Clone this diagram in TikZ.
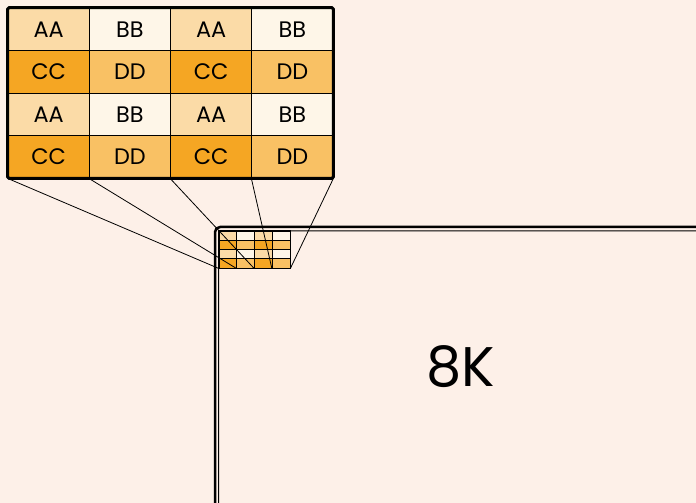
\documentclass[tikz,border=0pt]{standalone}
\usepackage{fontspec}
\setmainfont{Poppins}
\definecolor{bgpeach}{HTML}{FDF0E8}
\definecolor{cAA}{HTML}{FBDBA7}
\definecolor{cBB}{HTML}{FEF6E8}
\definecolor{cCC}{HTML}{F5A623}
\definecolor{cDD}{HTML}{F9C164}

\begin{document}
\begin{tikzpicture}[x=1bp,y=-1bp,line join=round]
	\tikzset{bigcell/.style={draw=black, rectangle, line width=0.8bp, minimum width=81.25bp, minimum height=42.5bp, inner sep=0pt, font=\fontsize{22.5}{22.5}\selectfont}}
	\tikzset{smallcell/.style={draw=black, rectangle, line width=0.8bp, minimum width=17.75bp, minimum height=9.25bp, inner sep=0pt}}
	\useasboundingbox (0,0) rectangle (696,503);
	\fill[bgpeach] (0,0) rectangle (696,503);
	\clip (0,0) rectangle (696,503);
	% the 8K frame
	\draw[line width=2.5bp, rounded corners=5bp] (215,520) |- (720,227);
	\draw[line width=1bp, rounded corners=2bp] (218.5,520) |- (720,231);
	\node[font=\fontsize{56}{56}\selectfont] at (461,367) (label8k){8K};
	% both grids
	\foreach \r/\row in {0/{AA,BB,AA,BB},1/{CC,DD,CC,DD},2/{AA,BB,AA,BB},3/{CC,DD,CC,DD}}{
		\foreach \t [count=\c from 0] in \row{
			\node[bigcell, fill=c\t] at (48.625+81.25*\c,29.25+42.5*\r) (big-\r-\c){\t};
			\node[smallcell, fill=c\t] at (227.875+17.75*\c,235.625+9.25*\r) (small-\r-\c){};
		}
	}
	\draw[line width=3bp, rounded corners=1.5bp] (big-0-0.north west) rectangle (big-3-3.south east);
	\draw[line width=1.5bp] (small-0-0.north west) rectangle (small-3-3.south east);
	% zoom lines
	\foreach \c in {0,...,3}
		\draw[line width=0.8bp] (big-3-\c.south west) -- (small-3-\c.south west);
	\draw[line width=0.8bp] (big-3-3.south east) -- (small-3-3.south east);
\end{tikzpicture}
\end{document}
